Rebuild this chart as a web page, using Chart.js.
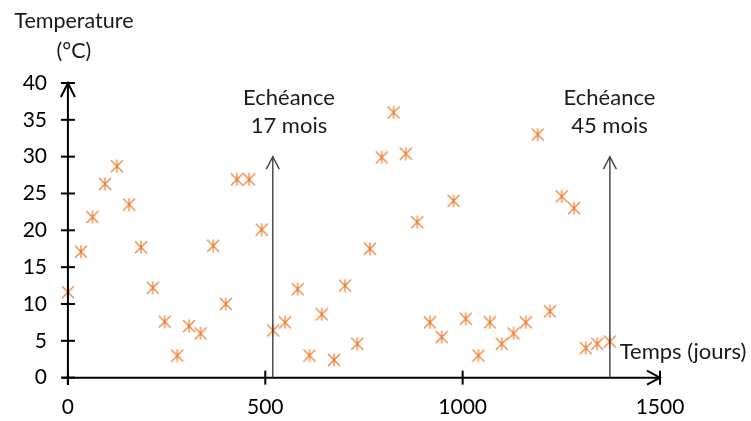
<!DOCTYPE html>
<html>
<head>
<meta charset="utf-8">
<script src="https://cdn.jsdelivr.net/npm/chart.js@4"></script>
<style>
  body { margin: 0; background: #fff; }
</style>
</head>
<body>
<canvas id="tempChart" width="751" height="421"></canvas>
<script>
// data
const days = [0, 33, 62, 94, 124, 155, 185, 215, 245, 277, 307, 336, 368, 400, 428, 459,
  491, 520, 550, 582, 612, 643, 674, 702, 733, 765, 795, 825, 856, 885, 917, 947, 977,
  1008, 1040, 1069, 1099, 1129, 1160, 1190, 1221, 1251, 1282, 1312, 1341, 1373];
const temps = [11.6, 17.1, 21.8, 26.3, 28.7, 23.5, 17.7, 12.2, 7.6, 3.0, 7.0, 6.0, 17.9,
  10.0, 26.9, 26.9, 20.1, 6.4, 7.5, 12.0, 3.0, 8.6, 2.4, 12.5, 4.6, 17.5, 29.9, 36.0,
  30.4, 21.1, 7.5, 5.5, 24.0, 8.0, 3.0, 7.5, 4.6, 6.0, 7.5, 33.0, 9.0, 24.6, 23.0, 4.0,
  4.6, 4.9];
const xTicks = [0, 500, 1000, 1500];
const yTicks = [0, 5, 10, 15, 20, 25, 30, 35, 40];
const deadlineDays = [519, 1373];
const deadlineTop = 30;
const deadlineLabels = [['Echéance', '17 mois'], ['Echéance', '45 mois']];
const deadlineLabelAt = [[560, 38], [1372, 38]];

const FONT = 'Lato';

function makeMarker(color) {
  const c = document.createElement('canvas');
  c.width = 14; c.height = 14;
  const g = c.getContext('2d');
  g.strokeStyle = color;
  g.lineWidth = 1.2;
  g.beginPath();
  g.moveTo(1, 1); g.lineTo(13, 13);
  g.moveTo(13, 1); g.lineTo(1, 13);
  g.moveTo(7, 0.5); g.lineTo(7, 13.5);
  g.stroke();
  return c;
}

function line(ctx, x1, y1, x2, y2) {
  ctx.beginPath();
  ctx.moveTo(x1, y1);
  ctx.lineTo(x2, y2);
  ctx.stroke();
}

// hand drawn axes, arrows and texts
const decorPlugin = {
  id: 'decor',
  afterDraw(chart) {
    const ctx = chart.ctx;
    const xs = chart.scales.x, ys = chart.scales.y;
    const x0 = xs.getPixelForValue(0), y0 = ys.getPixelForValue(0);
    const xEnd = xs.getPixelForValue(xTicks[xTicks.length - 1]);
    const yEnd = ys.getPixelForValue(yTicks[yTicks.length - 1]);
    ctx.save();
    ctx.strokeStyle = '#000';
    ctx.lineWidth = 2;
    line(ctx, xs.left, y0, xEnd, y0);
    line(ctx, x0, ys.bottom, x0, yEnd);
    yTicks.forEach(v => {
      const p = ys.getPixelForValue(v);
      line(ctx, x0 - 7, p, x0 + 7, p);
    });
    xTicks.forEach(v => {
      const p = xs.getPixelForValue(v);
      line(ctx, p, y0 - 7, p, y0 + 7);
    });
    // axis arrowheads
    ctx.beginPath();
    ctx.moveTo(x0 - 7, yEnd + 14); ctx.lineTo(x0, yEnd); ctx.lineTo(x0 + 7, yEnd + 14);
    ctx.moveTo(xEnd - 13, y0 - 7); ctx.lineTo(xEnd, y0); ctx.lineTo(xEnd - 13, y0 + 7);
    ctx.stroke();

    // deadline arrows
    ctx.strokeStyle = '#404040';
    ctx.lineWidth = 1.4;
    const top = ys.getPixelForValue(deadlineTop);
    deadlineDays.forEach(d => {
      const px = xs.getPixelForValue(d);
      line(ctx, px, y0, px, top);
      ctx.beginPath();
      ctx.moveTo(px - 6.5, top + 12.5); ctx.lineTo(px, top); ctx.lineTo(px + 6.5, top + 12.5);
      ctx.stroke();
    });

    ctx.fillStyle = '#1a1a1a';
    ctx.font = '22px ' + FONT;
    ctx.textAlign = 'center';
    ctx.textBaseline = 'middle';
    deadlineLabels.forEach((lines, i) => {
      const px = xs.getPixelForValue(deadlineLabelAt[i][0]);
      const py = ys.getPixelForValue(deadlineLabelAt[i][1]);
      lines.forEach((t, k) => ctx.fillText(t, px, py + k * 28));
    });

    ctx.textAlign = 'left';
    ctx.fillText('Temps (jours)', xs.getPixelForValue(1398), ys.getPixelForValue(3.5));

    ctx.font = '21.5px ' + FONT;
    ctx.textAlign = 'center';
    ctx.textBaseline = 'alphabetic';
    ctx.fillText('Temperature', x0 + 6, 27.5);
    ctx.fillText('(°C)', x0 + 6, 58);
    ctx.restore();
  }
};

const ctx = document.getElementById('tempChart').getContext('2d');
const chart = new Chart(ctx, {
  type: 'scatter',
  data: {
    datasets: [{
      label: 'Temperature',
      data: days.map((d, i) => ({ x: d, y: temps[i] })),
      pointStyle: makeMarker('#ED7D31'),
      pointRadius: 7,
      clip: false
    }]
  },
  options: {
    responsive: false,
    animation: false,
    layout: { padding: { top: 83, right: 91, bottom: 0, left: 0 } },
    plugins: {
      legend: { display: false },
      tooltip: { enabled: false }
    },
    scales: {
      x: {
        type: 'linear',
        min: -15,
        max: 1500,
        afterBuildTicks: s => { s.ticks = xTicks.map(v => ({ value: v })); },
        afterFit: s => { s.height = 36; },
        grid: { display: false, drawTicks: false },
        border: { display: false },
        ticks: {
          padding: 10, color: '#000', font: { family: FONT, size: 21 },
          callback: v => String(v)
        }
      },
      y: {
        type: 'linear',
        min: -1,
        max: 40,
        afterBuildTicks: s => { s.ticks = yTicks.map(v => ({ value: v })); },
        afterFit: s => { s.width = 62; },
        grid: { display: false, drawTicks: false },
        border: { display: false },
        ticks: {
          padding: 15, color: '#000', font: { family: FONT, size: 21 },
          callback: v => String(v)
        }
      }
    }
  },
  plugins: [decorPlugin]
});
</script>
</body>
</html>
